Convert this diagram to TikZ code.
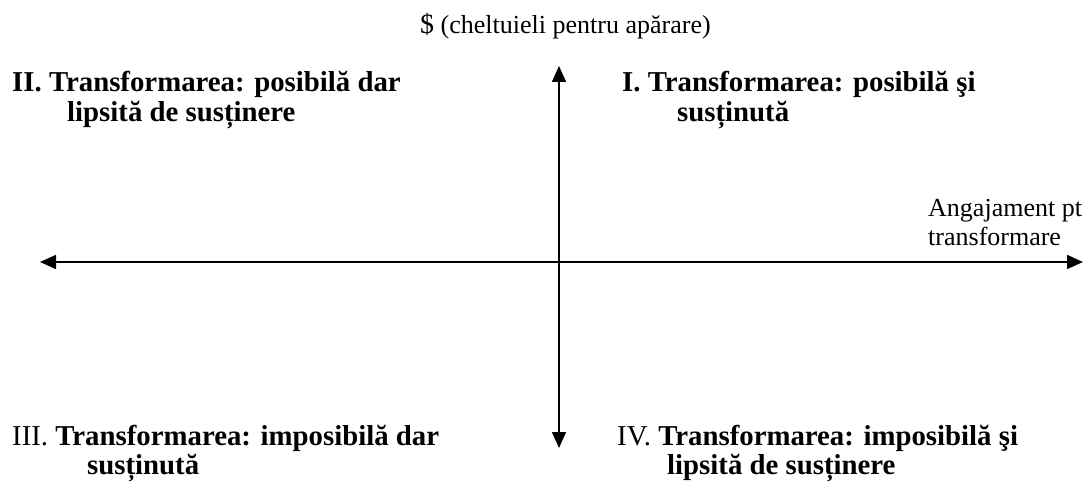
\documentclass[tikz,border=0pt]{standalone}
\usepackage{fontspec}
\setmainfont{Liberation Serif}
\usetikzlibrary{arrows.meta}
\tikzset{
  axis/.style={line width=1.6pt, {Triangle[length=16pt,width=14pt]}-{Triangle[length=16pt,width=14pt]}},
  quad/.style={anchor=base west, inner sep=0pt, font=\fontsize{28.8}{30}\selectfont\bfseries},
  lab/.style={anchor=base west, inner sep=0pt, font=\fontsize{26}{30}\selectfont},
}
\begin{document}
\begin{tikzpicture}[x=1pt,y=-1pt]
\useasboundingbox (0,0) rectangle (1085,486);
\coordinate (ytop) at (559,66);
\coordinate (ybot) at (559,448);
\coordinate (xleft) at (40,262);
\coordinate (xright) at (1083,262);
\draw[axis] (ybot) -- (ytop);
\draw[axis] (xleft) -- (xright);
\node[lab] (ylab) at (420,34) {{\fontsize{28}{30}\selectfont\$} (cheltuieli pentru apărare)};
\node[lab] (xlab1) at (928,217) {Angajament pt};
\node[lab] (xlab2) at (928,246) {transformare};
\node[quad] (q2a) at (12,92) {II. Transformarea: posibilă dar};
\node[quad] (q2b) at (67,122) {lipsită de susținere};
\node[quad] (q1a) at (622,92) {I. Transformarea: posibilă şi};
\node[quad] (q1b) at (677,122) {susținută};
\node[quad] (q3a) at (12,445) {{\mdseries III.} Transformarea: imposibilă dar};
\node[quad] (q3b) at (87,474) {susținută};
\node[quad] (q4a) at (617,445) {{\mdseries IV.} Transformarea: imposibilă şi};
\node[quad] (q4b) at (667,474) {lipsită de susținere};
\end{tikzpicture}
\end{document}
